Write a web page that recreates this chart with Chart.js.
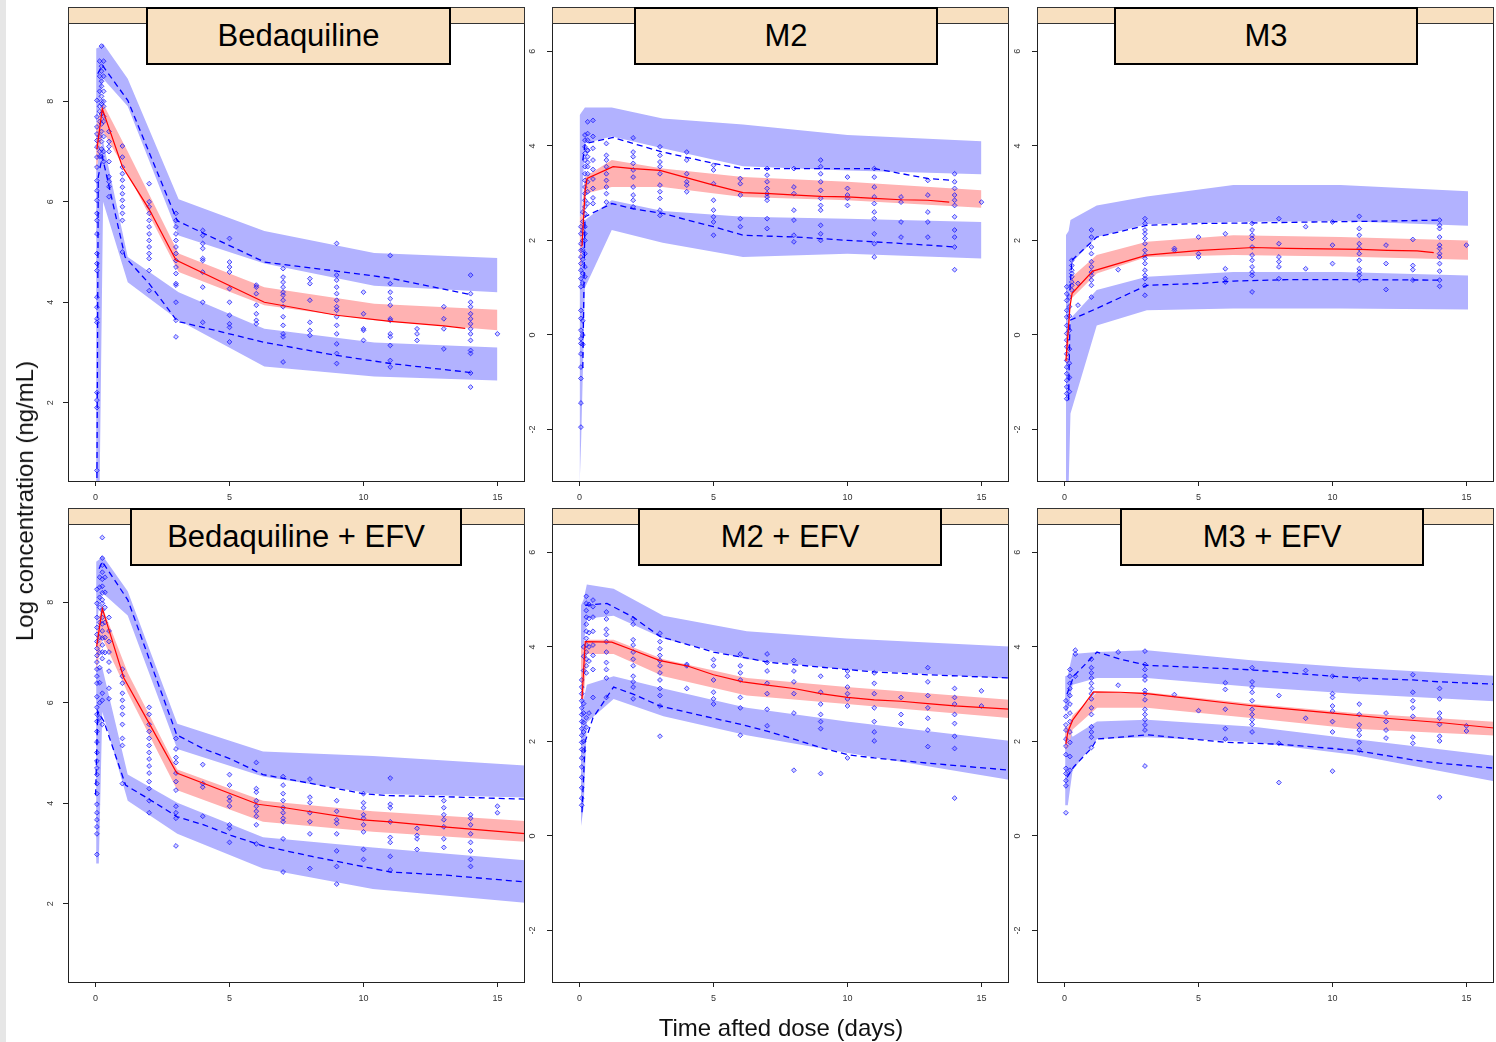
<!DOCTYPE html>
<html>
<head>
<meta charset="utf-8">
<script src="https://cdn.jsdelivr.net/npm/chart.js@4.4.1/dist/chart.umd.min.js"></script>
<style>
  body { margin:0; background:#fff; width:1496px; height:1042px; overflow:hidden; position:relative; font-family:"Liberation Sans", Arial, sans-serif; }
  .cv { position:absolute; }
  .edge { position:absolute; left:0; top:0; width:6px; height:1042px; background:#e6e6e6; }
  .strip { position:absolute; height:17px; background:#f8e0c0; border:1px solid #333; box-sizing:border-box; }
  .lbl { position:absolute; background:#f8e0c0; border:2px solid #000; box-sizing:border-box; display:flex; align-items:center; justify-content:center; font-size:31px; color:#000; }
  .ttl { position:absolute; font-size:24px; color:#111; white-space:nowrap; }
</style>
</head>
<body>
<div class="edge"></div>
<script>
// ---- ticks ----
const timeTicks = [0, 5, 10, 15];
const parentTicksY = [2, 4, 6, 8];
const metabTicksY = [-2, 0, 2, 4, 6];

// ---- Bedaquiline ----
const bdq_binX = [0.02, 0.15, 0.28, 1.2, 3.1, 6.3, 10.4, 15];
const bdq_p95Hi = [9.05, 9.08, 9.15, 8.45, 6.05, 5.42, 4.98, 4.88];
const bdq_p95Lo = [7.5, 8.0, 8.45, 7.9, 5.33, 4.77, 4.33, 4.2];
const bdq_p50Hi = [7.5, 7.8, 7.95, 7.0, 4.97, 4.3, 3.97, 3.85];
const bdq_p50Lo = [6.6, 7.0, 7.4, 6.56, 4.6, 3.94, 3.64, 3.44];
const bdq_p5Hi = [6.6, 7.0, 7.2, 4.9, 4.2, 3.47, 3.2, 3.1];
const bdq_p5Lo = [0.3, 0.3, 6.0, 4.4, 3.64, 2.72, 2.52, 2.44];
const bdq_medX = [0.05, 0.25, 1.0, 2.0, 3.0, 6.3, 9.0, 11.0, 13.0, 13.8];
const bdq_med = [7.05, 7.85, 6.7, 5.85, 4.84, 4.0, 3.74, 3.62, 3.53, 3.48];
const bdq_hiX = [0.08, 0.25, 1.2, 3.05, 6.3, 9.0, 11.0, 14.0];
const bdq_hi = [8.55, 8.72, 8.02, 5.62, 4.8, 4.62, 4.48, 4.15];
const bdq_loX = [0.05, 0.1, 0.25, 1.1, 2.0, 3.05, 4.0, 6.3, 9.0, 11.0, 14.0];
const bdq_lo = [0.5, 6.5, 6.9, 4.9, 4.37, 3.62, 3.5, 3.2, 2.94, 2.78, 2.6];
const bdq_obs = [
  [0.05, [0.65, 1.9, 2.05, 2.2, 3.6, 3.67, 3.9, 4.1, 4.63, 4.77, 4.97, 5.36, 5.63, 5.77, 6.03, 6.22, 6.42, 6.69, 6.89, 7.09, 7.22, 7.35, 7.49, 7.69, 8.02]],
  [0.15, [7.0, 7.3, 7.6, 7.9, 8.2, 8.5, 8.8, 6.9, 7.8]],
  [0.22, [9.1, 8.7, 8.4, 8.1, 7.95, 7.75, 7.55, 7.4, 7.2, 7.05, 6.9, 8.6, 8.3, 8.0]],
  [0.3, [8.8, 8.5, 8.2, 7.9, 7.6, 7.3, 7.0, 6.8, 8.0, 7.7]],
  [0.5, [7.4, 7.2, 7.0, 6.8, 6.5, 6.3, 6.1, 6.4, 7.1]],
  [1.0, [7.11, 6.89, 6.69, 6.56, 6.43, 6.29, 6.16, 6.03, 5.9, 5.77, 5.63, 5.0]],
  [2.0, [6.36, 6.0, 5.9, 5.77, 5.63, 5.5, 5.36, 5.23, 5.1, 4.97, 4.87, 4.63, 4.23]],
  [3.0, [5.77, 5.63, 5.5, 5.36, 5.23, 5.1, 4.97, 4.83, 4.7, 4.57, 4.37, 4.34, 4.0, 3.64, 3.31]],
  [4.0, [5.43, 5.33, 5.17, 5.07, 4.87, 4.83, 4.6, 4.3, 4.0, 3.6]],
  [5.0, [5.27, 4.8, 4.7, 4.6, 4.27, 4.0, 3.74, 3.57, 3.5, 3.21]],
  [6.0, [4.34, 4.3, 4.17, 3.94, 3.77, 3.64, 3.57]],
  [7.0, [4.67, 4.5, 4.4, 4.3, 4.2, 4.14, 4.04, 3.91, 3.71, 3.54, 3.37, 3.31, 2.81]],
  [8.0, [4.47, 4.37, 4.04, 3.6, 3.44, 3.34]],
  [9.0, [5.17, 4.54, 4.44, 4.3, 4.17, 4.04, 3.91, 3.84, 3.71, 3.54, 3.37, 3.17, 2.98, 2.78]],
  [10.0, [4.2, 3.77, 3.47, 3.44, 3.24]],
  [11.0, [4.93, 4.37, 4.2, 4.07, 3.94, 3.67, 3.64, 3.37, 3.31, 3.14, 2.84, 2.71]],
  [12.0, [3.47, 3.37, 3.24]],
  [13.0, [3.91, 3.67, 3.47, 3.07]],
  [14.0, [4.54, 4.17, 4.0, 3.91, 3.77, 3.67, 3.57, 3.47, 3.37, 3.24, 3.04, 2.98, 2.59, 2.31]],
  [15.0, [3.37]]
];

// ---- M2 ----
const m2_binX = [0.0, 0.06, 0.2, 1.2, 3.1, 6.1, 10.0, 15];
const m2_p95Hi = [4.65, 4.7, 4.81, 4.81, 4.58, 4.45, 4.23, 4.1];
const m2_p95Lo = [2.5, 2.5, 4.05, 4.2, 3.95, 3.57, 3.48, 3.4];
const m2_p50Hi = [2.5, 2.5, 3.34, 3.7, 3.52, 3.34, 3.24, 3.06];
const m2_p50Lo = [1.45, 1.45, 2.99, 3.13, 3.13, 2.92, 2.85, 2.69];
const m2_p5Hi = [1.5, 1.5, 2.43, 2.85, 2.62, 2.5, 2.46, 2.39];
const m2_p5Lo = [-3.2, -2.2, 1.0, 2.22, 1.95, 1.65, 1.72, 1.62];
const m2_medX = [0.09, 0.21, 0.28, 1.25, 2.0, 3.0, 5.0, 6.1, 7.1, 8.1, 9.0, 10.0, 11.0, 12.0, 13.0, 13.8];
const m2_med = [1.87, 3.07, 3.31, 3.56, 3.52, 3.48, 3.17, 3.01, 2.99, 2.96, 2.93, 2.92, 2.89, 2.86, 2.85, 2.81];
const m2_hiX = [0.12, 0.21, 1.25, 2.0, 3.1, 5.0, 6.1, 9.0, 11.0, 13.0, 13.95];
const m2_hi = [3.7, 4.05, 4.18, 4.05, 3.87, 3.63, 3.52, 3.52, 3.52, 3.31, 3.27];
const m2_loX = [0.12, 0.2, 1.2, 2.0, 3.1, 5.0, 6.1, 8.1, 9.0, 10.0, 11.0, 13.0, 14.0];
const m2_lo = [-0.7, 2.5, 2.78, 2.67, 2.57, 2.29, 2.11, 2.07, 2.04, 2.0, 1.97, 1.9, 1.86];
const m2_obs = [
  [0.05, [-1.95, -1.44, -0.92, -0.68, -0.4, -0.18, -0.08, 0.1, 0.35, 0.52, 1.02, 1.19, 1.37, 1.51, 1.65, 1.79, 1.93, 2.14, 2.29]],
  [0.12, [-0.2, 0.0, 0.3, 1.1, 1.3, 1.6, 1.8, 2.0, 2.2, 2.4, 2.6]],
  [0.2, [2.57, 2.71, 2.85, 2.99, 3.13, 3.27, 3.41, 3.56, 3.7, 3.84, 3.98, 4.12, 4.23, 2.29, 2.14, 2.0, 1.72, 1.44, 1.23]],
  [0.3, [4.51, 4.26, 4.12, 3.91, 3.77, 3.56, 3.41, 3.24, 3.03, 2.78, 3.9, 3.65]],
  [0.5, [4.54, 4.2, 3.95, 3.7, 3.5, 3.3, 3.1, 2.9, 2.78]],
  [1.0, [4.05, 3.8, 3.7, 3.56, 3.41, 3.27, 3.13, 2.99, 2.81]],
  [2.0, [4.17, 3.87, 3.77, 3.63, 3.49, 3.34, 3.13, 2.96, 2.85, 2.71]],
  [3.0, [3.98, 3.8, 3.66, 3.56, 3.41, 3.17, 3.03, 2.89, 2.64, 2.53]],
  [4.0, [3.87, 3.7, 3.41, 3.24, 3.17, 3.03]],
  [5.0, [3.59, 3.49, 3.2, 2.85, 2.64, 2.5, 2.39, 2.11]],
  [6.0, [3.31, 3.2, 2.96, 2.46, 2.29]],
  [7.0, [3.52, 3.38, 3.24, 3.1, 2.99, 2.92, 2.85, 2.46, 2.25]],
  [8.0, [3.52, 3.13, 2.99, 2.64, 2.43, 2.11, 1.97]],
  [9.0, [3.7, 3.56, 3.41, 3.24, 3.06, 2.89, 2.74, 2.64, 2.32, 2.14, 2.0]],
  [10.0, [3.34, 3.1, 2.96, 2.89, 2.74]],
  [11.0, [3.52, 3.34, 3.13, 2.92, 2.78, 2.6, 2.46, 2.14, 1.93, 1.65]],
  [12.0, [2.92, 2.81, 2.39, 2.07]],
  [13.0, [3.27, 2.96, 2.6, 2.39, 2.07]],
  [14.0, [3.41, 3.24, 3.1, 2.96, 2.85, 2.74, 2.5, 2.22, 2.07, 1.86, 1.38]],
  [15.0, [2.81]]
];

// ---- M3 ----
const m3_binX = [0.05, 0.15, 0.22, 1.2, 3.07, 6.3, 10.3, 15.06];
const m3_p95Hi = [2.11, 2.2, 2.43, 2.74, 2.93, 3.17, 3.17, 3.04];
const m3_p95Lo = [0.0, 0.0, 1.5, 2.07, 2.34, 2.39, 2.41, 2.31];
const m3_p50Hi = [0.03, 0.1, 1.2, 1.69, 1.97, 2.11, 2.07, 2.0];
const m3_p50Lo = [-0.6, -0.6, 0.75, 1.3, 1.65, 1.69, 1.66, 1.59];
const m3_p5Hi = [-0.5, -0.5, 0.35, 0.95, 1.23, 1.33, 1.33, 1.26];
const m3_p5Lo = [-3.2, -3.2, -1.66, 0.2, 0.52, 0.56, 0.56, 0.54];
const m3_medX = [0.05, 0.2, 0.28, 1.05, 3.07, 5.07, 7.06, 8.3, 11.04, 12.04, 13.16, 13.78];
const m3_med = [-0.55, 0.6, 0.88, 1.35, 1.69, 1.79, 1.85, 1.83, 1.81, 1.79, 1.78, 1.74];
const m3_hiX = [0.2, 0.27, 1.2, 3.07, 5.2, 7.06, 9.3, 12.0, 14.03];
const m3_hi = [0.95, 1.58, 2.07, 2.32, 2.36, 2.37, 2.39, 2.41, 2.43];
const m3_loX = [0.15, 0.2, 1.2, 3.07, 5.07, 6.3, 8.3, 11.04, 14.03];
const m3_lo = [-1.38, 0.31, 0.56, 1.05, 1.09, 1.14, 1.17, 1.17, 1.16];
const m3_obs = [
  [0.08, [-1.35, -1.24, -1.1, -0.96, -0.82, -0.68, -0.54, -0.4, -0.25, -0.11, 0.03, 0.2, 0.38, 0.52, 0.73, 0.87, 1.02]],
  [0.18, [-1.2, -0.9, -0.6, -0.3, 0.1, 0.4, 0.6, 0.8]],
  [0.27, [1.12, 1.23, 1.37, 1.47, 1.58, 0.95, 1.3, 1.05]],
  [0.5, [1.09, 0.63]],
  [1.0, [2.22, 2.07, 1.86, 1.72, 1.55, 1.44, 1.33, 1.26, 1.16, 1.05, 0.8]],
  [2.0, [1.38]],
  [3.0, [2.46, 2.36, 2.22, 2.14, 2.04, 1.93, 1.79, 1.69, 1.62, 1.51, 1.37, 1.26, 1.19, 1.05, 0.84]],
  [4.1, [1.83, 1.79]],
  [5.0, [2.07, 1.72, 1.65]],
  [6.0, [2.14, 1.4, 1.19, 1.12]],
  [7.0, [2.36, 2.22, 2.11, 2.04, 1.86, 1.69, 1.58, 1.44, 1.33, 1.26, 0.91]],
  [8.0, [2.46, 1.93, 1.65, 1.55, 1.44, 1.19]],
  [9.0, [2.29, 1.4]],
  [10.0, [2.39, 1.9, 1.51]],
  [11.0, [2.51, 2.25, 2.11, 1.93, 1.83, 1.72, 1.58, 1.4, 1.33, 1.26, 1.16]],
  [12.0, [1.9, 1.51, 0.96]],
  [13.0, [2.02, 1.47, 1.38, 1.16]],
  [14.0, [2.43, 2.32, 2.25, 2.07, 1.9, 1.83, 1.72, 1.65, 1.51, 1.35, 1.16, 1.03]],
  [15.0, [1.9]]
];

// ---- Bedaquiline + EFV ----
const bdqE_binX = [0.02, 0.12, 0.25, 1.2, 3.05, 6.25, 10.35, 17];
const bdqE_p95Hi = [8.81, 8.85, 8.94, 8.22, 5.58, 5.03, 4.94, 4.72];
const bdqE_p95Lo = [7.3, 7.9, 8.19, 7.74, 5.08, 4.53, 4.19, 4.1];
const bdqE_p50Hi = [7.3, 7.7, 7.91, 6.6, 4.67, 4.05, 3.84, 3.61];
const bdqE_p50Lo = [6.6, 6.9, 7.29, 6.2, 4.26, 3.63, 3.43, 3.2];
const bdqE_p5Hi = [6.7, 6.7, 6.7, 4.57, 4.01, 3.32, 3.12, 2.82];
const bdqE_p5Lo = [2.8, 2.8, 5.82, 4.05, 3.39, 2.7, 2.29, 1.97];
const bdqE_medX = [0.04, 0.25, 1.05, 2.02, 3.03, 6.06, 7.07, 9.97, 11.0, 13.0, 16.1];
const bdqE_med = [7.12, 7.88, 6.5, 5.57, 4.6, 3.98, 3.91, 3.67, 3.63, 3.53, 3.39];
const bdqE_hiX = [0.13, 0.25, 1.2, 3.03, 4.04, 5.05, 6.25, 8.08, 9.97, 11.0, 13.0, 16.1];
const bdqE_hi = [8.67, 8.81, 8.05, 5.36, 5.08, 4.88, 4.57, 4.39, 4.19, 4.15, 4.13, 4.08];
const bdqE_loX = [0.0, 0.08, 0.31, 1.12, 2.06, 3.05, 4.04, 5.05, 6.25, 8.08, 9.97, 11.0, 13.0, 16.1];
const bdqE_lo = [4.16, 5.83, 5.63, 4.36, 4.06, 3.73, 3.57, 3.36, 3.15, 2.94, 2.74, 2.63, 2.57, 2.43];
const bdqE_obs = [
  [0.05, [2.98, 3.39, 3.53, 3.67, 3.81, 3.98, 4.19, 4.39, 4.57, 4.7, 4.84, 5.01, 5.22, 5.43, 5.63, 5.77, 5.91, 6.12, 6.39, 6.53, 6.67, 6.81, 6.94, 7.08, 7.22, 7.36, 7.5, 7.7, 7.98, 8.26]],
  [0.15, [8.1, 8.3, 8.5, 7.9, 7.6, 7.3, 7.0, 6.7, 6.4, 6.0, 5.7]],
  [0.25, [9.29, 8.88, 8.74, 8.6, 8.46, 8.32, 8.19, 8.05, 7.98, 7.84, 7.7, 7.57, 7.43, 7.29, 7.15, 7.01, 6.88, 6.19, 6.05, 5.57]],
  [0.35, [8.5, 8.2, 7.9, 7.6, 7.3, 7.0]],
  [0.5, [7.7, 7.43, 7.22, 7.01, 6.81, 6.63, 6.29, 6.08]],
  [1.0, [6.67, 6.53, 6.39, 6.19, 6.05, 5.91, 5.77, 5.57, 5.29, 5.15, 4.39]],
  [2.0, [5.91, 5.77, 5.57, 5.43, 5.29, 5.15, 5.01, 4.88, 4.74, 4.6, 4.43, 4.29, 4.05, 3.81]],
  [3.0, [5.29, 5.08, 4.91, 4.81, 4.6, 4.43, 4.26, 3.94, 3.81, 3.7, 3.15]],
  [4.0, [4.77, 4.39, 4.32, 3.74]],
  [5.0, [4.57, 4.36, 4.12, 4.05, 3.94, 3.57, 3.5, 3.22]],
  [6.0, [4.81, 4.29, 4.22, 4.05, 3.94, 3.84, 3.74, 3.57, 3.19]],
  [7.0, [4.53, 4.36, 4.19, 4.05, 3.91, 3.81, 3.7, 3.63, 3.29, 2.63]],
  [8.0, [4.48, 4.12, 4.01, 3.81, 3.63, 3.39, 2.7]],
  [9.0, [4.05, 3.84, 3.67, 3.6, 3.39, 3.05, 2.74, 2.39]],
  [10.0, [4.19, 4.01, 3.91, 3.77, 3.7, 3.57, 3.43, 3.08, 2.88]],
  [11.0, [4.5, 3.98, 3.91, 3.63, 3.32, 3.22, 2.94, 2.67]],
  [12.0, [3.5, 3.36, 3.29, 3.08]],
  [13.0, [4.05, 3.91, 3.77, 3.67, 3.53, 3.29, 3.12]],
  [14.0, [3.77, 3.7, 3.57, 3.39, 3.22, 3.05, 2.88, 2.74]],
  [15.0, [3.94, 3.81]]
];

// ---- M2 + EFV ----
const m2E_binX = [0.05, 0.15, 0.27, 1.27, 3.13, 6.24, 9.97, 17];
const m2E_p95Hi = [4.88, 5.0, 5.32, 5.23, 4.66, 4.33, 4.18, 3.98];
const m2E_p95Lo = [4.0, 4.0, 4.6, 4.66, 4.18, 3.74, 3.52, 3.3];
const m2E_p50Hi = [4.0, 4.0, 4.15, 4.15, 3.74, 3.34, 3.15, 2.84];
const m2E_p50Lo = [2.9, 2.9, 3.85, 3.85, 3.38, 2.97, 2.79, 2.45];
const m2E_p5Hi = [2.9, 2.9, 3.2, 3.38, 3.12, 2.71, 2.42, 1.95];
const m2E_p5Lo = [0.2, 0.6, 2.4, 2.9, 2.53, 2.13, 1.76, 1.1];
const m2E_medX = [0.09, 0.21, 1.2, 2.0, 3.0, 4.0, 5.0, 6.1, 7.0, 8.0, 9.0, 10.0, 11.0, 12.0, 13.0, 14.0, 16.1];
const m2E_med = [2.9, 4.11, 4.1, 3.93, 3.71, 3.6, 3.41, 3.26, 3.19, 3.12, 3.01, 2.93, 2.88, 2.85, 2.8, 2.75, 2.68];
const m2E_hiX = [0.21, 1.02, 2.0, 3.0, 5.0, 6.1, 7.1, 10.0, 11.0, 13.0, 16.1];
const m2E_hi = [4.88, 4.92, 4.63, 4.22, 3.89, 3.78, 3.67, 3.52, 3.47, 3.41, 3.34];
const m2E_loX = [0.09, 0.21, 0.5, 1.27, 2.0, 3.0, 5.0, 6.1, 7.1, 8.0, 9.0, 10.0, 11.0, 13.0, 16.1];
const m2E_lo = [0.5, 2.0, 2.5, 3.15, 3.0, 2.75, 2.49, 2.35, 2.2, 2.05, 1.87, 1.72, 1.65, 1.54, 1.39];
const m2E_obs = [
  [0.08, [0.65, 0.8, 1.02, 1.24, 1.46, 1.65, 1.83, 1.98, 2.13, 2.27, 2.42, 2.57, 2.71, 2.86, 3.01, 3.15, 3.3]],
  [0.15, [1.8, 2.0, 2.2, 2.4, 2.6, 2.8, 3.5, 3.8, 4.0]],
  [0.25, [3.45, 3.6, 3.74, 3.89, 4.04, 4.18, 4.33, 4.48, 4.63, 4.77, 4.92, 5.07, 2.5, 2.3]],
  [0.35, [4.9, 4.6, 4.3, 4.0, 3.7, 2.6]],
  [0.5, [4.99, 4.85, 4.63, 4.33, 4.04, 3.82, 3.52, 2.93]],
  [1.0, [4.74, 4.59, 4.37, 4.26, 4.11, 3.89, 3.67, 3.52, 3.34, 2.93]],
  [2.0, [4.59, 4.48, 4.15, 4.04, 3.89, 3.74, 3.6, 3.38, 3.26, 3.15, 2.9]],
  [3.0, [4.29, 4.11, 3.96, 3.82, 3.71, 3.6, 3.45, 3.3, 3.12, 2.97, 2.75, 2.11]],
  [4.0, [3.63, 3.6, 3.12]],
  [5.0, [3.73, 3.6, 3.3, 3.04, 2.9, 2.79]],
  [6.0, [3.85, 3.6, 3.45, 3.3, 2.93, 2.71, 2.13]],
  [7.0, [3.85, 3.67, 3.49, 3.23, 3.01, 2.68, 2.33]],
  [8.0, [3.71, 3.49, 3.26, 3.01, 2.6, 1.39]],
  [9.0, [3.38, 3.04, 2.79, 2.57, 2.42, 2.27, 1.32]],
  [10.0, [3.49, 3.38, 3.15, 3.01, 2.9, 2.75, 1.65]],
  [11.0, [3.45, 3.23, 3.01, 2.71, 2.42, 2.2, 2.01]],
  [12.0, [2.93, 2.57, 2.38]],
  [13.0, [3.56, 3.26, 2.97, 2.71, 2.49, 2.24, 1.89]],
  [14.0, [3.12, 2.93, 2.79, 2.57, 2.38, 2.11, 1.85, 0.8]],
  [15.0, [3.07, 2.75]]
];

// ---- M3 + EFV ----
const m3E_binX = [0.02, 0.12, 0.3, 1.21, 3.07, 7.06, 10.8, 17];
const m3E_p95Hi = [3.38, 3.4, 3.85, 3.89, 3.93, 3.71, 3.56, 3.36];
const m3E_p95Lo = [2.64, 2.64, 3.2, 3.34, 3.34, 3.15, 3.01, 2.82];
const m3E_p50Hi = [2.3, 2.3, 2.55, 3.04, 3.04, 2.79, 2.6, 2.38];
const m3E_p50Lo = [1.85, 1.85, 2.25, 2.71, 2.71, 2.49, 2.27, 2.1];
const m3E_p5Hi = [2.3, 2.3, 2.1, 2.42, 2.46, 2.31, 2.05, 1.63];
const m3E_p5Lo = [0.65, 0.65, 1.39, 2.05, 2.09, 1.98, 1.72, 1.05];
const m3E_medX = [0.05, 0.12, 0.3, 1.08, 2.08, 3.07, 7.06, 10.0, 12.0, 14.0, 16.1];
const m3E_med = [1.95, 2.2, 2.45, 3.05, 3.04, 3.01, 2.75, 2.6, 2.49, 2.4, 2.28];
const m3E_hiX = [0.09, 0.34, 1.21, 2.08, 3.07, 6.06, 7.06, 10.0, 11.04, 13.0, 14.0, 16.1];
const m3E_hi = [3.0, 3.38, 3.89, 3.74, 3.61, 3.54, 3.51, 3.38, 3.34, 3.3, 3.26, 3.21];
const m3E_loX = [0.09, 0.34, 1.02, 1.21, 2.08, 3.07, 6.06, 8.05, 10.0, 11.04, 13.0, 14.0, 16.1];
const m3E_lo = [1.24, 1.46, 1.87, 2.05, 2.09, 2.14, 1.98, 1.94, 1.85, 1.79, 1.61, 1.54, 1.43];
const m3E_obs = [
  [0.05, [0.49, 1.06, 1.17, 1.32, 1.43, 1.72, 1.9, 2.05, 2.24, 2.35, 2.53, 2.71, 2.86]],
  [0.2, [1.39, 1.68, 1.98, 2.2, 2.42, 2.6, 2.79, 2.97, 3.12, 3.23, 3.38, 3.52]],
  [0.4, [3.93, 3.85, 3.38]],
  [1.0, [3.74, 3.56, 3.45, 3.34, 3.23, 3.12, 3.01, 2.9, 2.71, 2.57, 2.31, 2.2, 2.09, 1.87]],
  [2.0, [3.89, 3.19]],
  [3.0, [3.91, 3.63, 3.52, 3.38, 3.3, 3.08, 3.01, 2.88, 2.68, 2.57, 2.46, 2.35, 2.24, 1.48]],
  [4.1, [2.99]],
  [5.0, [2.65]],
  [6.0, [3.24, 3.1, 2.68, 2.27, 2.05]],
  [7.0, [3.56, 3.26, 3.15, 3.04, 2.86, 2.68, 2.57, 2.46, 2.36, 2.2]],
  [8.0, [2.97, 1.96, 1.13]],
  [9.0, [3.5, 2.49]],
  [10.0, [3.38, 3.01, 2.93, 2.75, 2.64, 2.42, 2.2, 1.37]],
  [11.0, [3.32, 2.79, 2.57, 2.35, 2.24, 2.13, 1.98, 1.82]],
  [12.0, [2.6, 2.42, 2.24, 2.07]],
  [13.0, [3.41, 3.04, 2.86, 2.71, 2.53, 2.09, 1.96]],
  [14.0, [3.12, 2.9, 2.6, 2.49, 2.36, 2.11, 2.01, 0.82]],
  [15.0, [2.33, 2.22]],
  [16.1, [1.98]]
];

// cores
const azulBanda = '#b2b2ff';
const vermBanda = '#ffb2b2';
const azul = '#0000ff';
const vermelho = '#ff0000';
const fonte = '"Liberation Sans", Arial, sans-serif';

// layout (px)
const colLeft = [68, 552, 1037];
const rowTop = [7, 508];
const panelW = 457, panelH = 458, stripH = 16;
const labelBoxes = [
  [146, 451], [634, 938], [1114, 1418],
  [130, 462], [638, 942], [1120, 1424]
];

const paineis = [
  { nome: 'Bedaquiline', yMin: 0.44, yMax: 9.56, yTicks: parentTicksY, binX: bdq_binX, p95: [bdq_p95Hi, bdq_p95Lo], p50: [bdq_p50Hi, bdq_p50Lo], p5: [bdq_p5Hi, bdq_p5Lo], med: [bdq_medX, bdq_med], hi: [bdq_hiX, bdq_hi], lo: [bdq_loX, bdq_lo], obs: bdq_obs },
  { nome: 'M2', yMin: -3.09, yMax: 6.6, yTicks: metabTicksY, binX: m2_binX, p95: [m2_p95Hi, m2_p95Lo], p50: [m2_p50Hi, m2_p50Lo], p5: [m2_p5Hi, m2_p5Lo], med: [m2_medX, m2_med], hi: [m2_hiX, m2_hi], lo: [m2_loX, m2_lo], obs: m2_obs },
  { nome: 'M3', yMin: -3.09, yMax: 6.6, yTicks: metabTicksY, binX: m3_binX, p95: [m3_p95Hi, m3_p95Lo], p50: [m3_p50Hi, m3_p50Lo], p5: [m3_p5Hi, m3_p5Lo], med: [m3_medX, m3_med], hi: [m3_hiX, m3_hi], lo: [m3_loX, m3_lo], obs: m3_obs },
  { nome: 'Bedaquiline + EFV', yMin: 0.44, yMax: 9.56, yTicks: parentTicksY, binX: bdqE_binX, p95: [bdqE_p95Hi, bdqE_p95Lo], p50: [bdqE_p50Hi, bdqE_p50Lo], p5: [bdqE_p5Hi, bdqE_p5Lo], med: [bdqE_medX, bdqE_med], hi: [bdqE_hiX, bdqE_hi], lo: [bdqE_loX, bdqE_lo], obs: bdqE_obs },
  { nome: 'M2 + EFV', yMin: -3.09, yMax: 6.6, yTicks: metabTicksY, binX: m2E_binX, p95: [m2E_p95Hi, m2E_p95Lo], p50: [m2E_p50Hi, m2E_p50Lo], p5: [m2E_p5Hi, m2E_p5Lo], med: [m2E_medX, m2E_med], hi: [m2E_hiX, m2E_hi], lo: [m2E_loX, m2E_lo], obs: m2E_obs },
  { nome: 'M3 + EFV', yMin: -3.09, yMax: 6.6, yTicks: metabTicksY, binX: m3E_binX, p95: [m3E_p95Hi, m3E_p95Lo], p50: [m3E_p50Hi, m3E_p50Lo], p5: [m3E_p5Hi, m3E_p5Lo], med: [m3E_medX, m3E_med], hi: [m3E_hiX, m3E_hi], lo: [m3E_loX, m3E_lo], obs: m3E_obs }
];

function zip(xs, ys) { return xs.map((x, i) => ({ x: x, y: ys[i] })) }
function pontos(grupos) {
  const pts = [];
  grupos.forEach(([t, ys]) => ys.forEach(y => pts.push({ x: t, y: y })));
  return pts;
}

// caixa do painel
const caixa = {
  id: 'caixa',
  afterDraw(chart) {
    const a = chart.chartArea, ctx = chart.ctx;
    ctx.save();
    ctx.strokeStyle = '#222';
    ctx.lineWidth = 1;
    ctx.strokeRect(a.left + 0.5, a.top + 0.5, a.right - a.left - 1, a.bottom - a.top);
    ctx.restore();
  }
};

function banda(binX, par, cor, ordem) {
  return [
    { data: zip(binX, par[0]), borderWidth: 0, pointRadius: 0, fill: false, order: ordem },
    { data: zip(binX, par[1]), borderWidth: 0, pointRadius: 0, fill: '-1', backgroundColor: cor, order: ordem }
  ];
}

paineis.forEach((p, i) => {
  const col = i % 3, row = Math.floor(i / 3);
  const left = colLeft[col], top = rowTop[row] + stripH;

  const cv = document.createElement('canvas');
  cv.className = 'cv';
  cv.width = panelW + 53; cv.height = panelH + 33;
  cv.style.left = (left - 50) + 'px';
  cv.style.top = (top - 3) + 'px';
  document.body.appendChild(cv);

  const eixoComum = {
    type: 'linear',
    border: { display: false },
    grid: { drawOnChartArea: false, drawTicks: true, tickLength: 5, color: '#222' },
  };

  new Chart(cv.getContext('2d'), {
    type: 'line',
    data: {
      datasets: [
        ...banda(p.binX, p.p95, azulBanda, 10),
        ...banda(p.binX, p.p5, azulBanda, 10),
        ...banda(p.binX, p.p50, vermBanda, 9),
        { data: pontos(p.obs), showLine: false, pointStyle: 'rectRot', pointRadius: 2.4, pointBorderWidth: 1,
          pointBorderColor: 'rgba(20,20,255,0.75)', pointBackgroundColor: 'rgba(20,20,255,0.2)', order: 5 },
        { data: zip(p.hi[0], p.hi[1]), borderColor: azul, borderWidth: 1.3, borderDash: [6, 4], pointRadius: 0, fill: false, order: 2 },
        { data: zip(p.lo[0], p.lo[1]), borderColor: azul, borderWidth: 1.3, borderDash: [6, 4], pointRadius: 0, fill: false, order: 2 },
        { data: zip(p.med[0], p.med[1]), borderColor: vermelho, borderWidth: 1.2, pointRadius: 0, fill: false, order: 1 }
      ]
    },
    options: {
      responsive: false,
      animation: false,
      devicePixelRatio: 1,
      layout: { autoPadding: false, padding: { top: 3, right: 3, left: 0, bottom: 0 } },
      elements: { line: { tension: 0 } },
      plugins: { legend: { display: false }, tooltip: { enabled: false } },
      scales: {
        x: {
          ...eixoComum,
          min: -1.03, max: 16.03,
          afterBuildTicks: s => { s.ticks = timeTicks.map(v => ({ value: v })) },
          afterFit: s => { s.height = 30; s.paddingLeft = 0; s.paddingRight = 0 },
          ticks: { font: { size: 9, family: fonte }, color: '#333', padding: 6, maxRotation: 0, autoSkip: false }
        },
        y: {
          ...eixoComum,
          min: p.yMin, max: p.yMax,
          afterBuildTicks: s => { s.ticks = p.yTicks.map(v => ({ value: v })) },
          afterFit: s => { s.width = 50; s.paddingTop = 0; s.paddingBottom = 0 },
          ticks: { font: { size: 9, family: fonte }, color: '#333', padding: 10, minRotation: 90, maxRotation: 90, crossAlign: 'center', autoSkip: false }
        }
      }
    },
    plugins: [caixa]
  });

  // faixa (strip) e rótulo
  const st = document.createElement('div');
  st.className = 'strip';
  st.style.left = left + 'px';
  st.style.top = rowTop[row] + 'px';
  st.style.width = panelW + 'px';
  document.body.appendChild(st);

  const lb = document.createElement('div');
  lb.className = 'lbl';
  const [x0, x1] = labelBoxes[i];
  lb.style.left = x0 + 'px';
  lb.style.width = (x1 - x0) + 'px';
  lb.style.top = rowTop[row] + 'px';
  lb.style.height = '58px';
  lb.textContent = p.nome;
  document.body.appendChild(lb);
});

// títulos dos eixos
const ty = document.createElement('div');
ty.className = 'ttl';
ty.textContent = 'Log concentration (ng/mL)';
ty.style.left = '25px'; ty.style.top = '501px';
ty.style.transform = 'translate(-50%, -50%) rotate(-90deg)';
document.body.appendChild(ty);

const tx = document.createElement('div');
tx.className = 'ttl';
tx.textContent = 'Time afted dose (days)';
tx.style.left = '781px'; tx.style.top = '1028px';
tx.style.transform = 'translate(-50%, -50%)';
document.body.appendChild(tx);
</script>
</body>
</html>
